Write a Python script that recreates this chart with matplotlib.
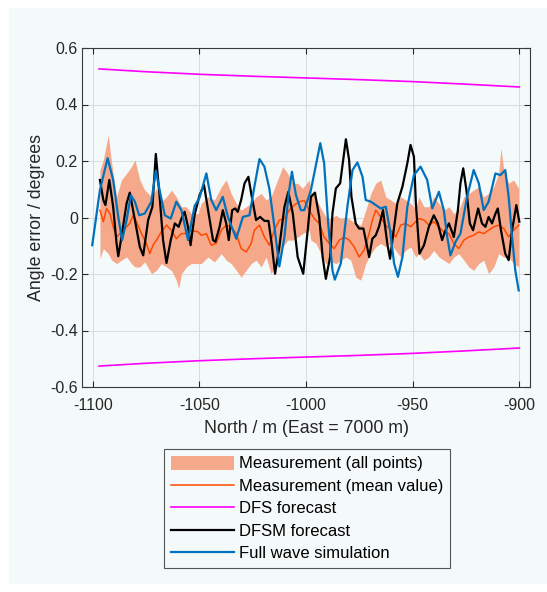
import numpy as np
import matplotlib
matplotlib.use("Agg")
from matplotlib import pyplot as plt
from matplotlib.patches import Rectangle

# Data
blue_x = [-1100.2, -1096.6, -1093.0, -1090.4, -1088.0, -1086.2, -1084.1, -1082.1, -1080.2, -1078.2,
          -1075.6, -1072.5, -1070.4, -1068.6, -1066.2, -1063.4, -1060.8, -1058.4, -1055.3, -1052.2,
          -1049.9, -1046.7, -1044.4, -1042.1, -1039.0, -1036.6, -1032.7, -1029.6, -1026.5, -1024.2,
          -1021.8, -1019.5, -1017.2, -1014.8, -1012.5, -1010.1, -1008.1, -1006.6, -1004.7, -1002.4,
          -1000.8, -997.7, -993.3, -991.5, -989.6, -987.6, -986.5, -983.7, -980.6, -978.2,
          -975.9, -973.5, -972.0, -969.6, -967.3, -965.0, -962.6, -960.6, -958.7, -956.9,
          -954.8, -952.5, -949.4, -946.3, -943.2, -940.8, -937.7, -935.4, -933.8, -932.3,
          -929.9, -927.6, -924.5, -921.4, -919.0, -916.7, -914.4, -911.2, -908.9, -906.6,
          -905.0, -903.4, -901.9, -900.3]
blue_y = [-0.098, 0.097, 0.210, 0.133, 0.002, -0.080, -0.010, 0.079, 0.056, 0.008,
          0.014, 0.056, 0.165, 0.097, 0.008, -0.004, 0.056, 0.026, -0.080, 0.041,
          0.070, 0.156, 0.062, 0.026, 0.073, 0.002, -0.075, 0.002, 0.008, 0.109,
          0.207, 0.180, 0.103, -0.033, -0.173, -0.069, 0.085, 0.162, 0.079, 0.026,
          0.026, 0.097, 0.263, 0.192, -0.021, -0.187, -0.220, -0.163, 0.038, 0.168,
          0.195, 0.144, 0.062, 0.056, 0.044, 0.032, 0.038, -0.045, -0.163, -0.210,
          -0.140, 0.038, 0.150, 0.180, 0.133, 0.032, 0.091, 0.026, -0.069, -0.134,
          -0.086, -0.057, 0.073, 0.168, 0.121, 0.026, 0.056, 0.156, 0.150, 0.168,
          0.073, -0.069, -0.187, -0.258]

black_x = [-1096.6, -1095.0, -1094.0, -1092.2, -1090.4, -1088.8, -1088.0, -1086.5, -1084.1, -1082.6,
           -1080.2, -1077.9, -1076.3, -1074.0, -1072.0, -1070.4, -1068.6, -1067.0, -1065.4, -1063.4,
           -1061.5, -1059.7, -1058.4, -1056.9, -1055.3, -1054.1, -1052.2, -1049.9, -1047.8, -1045.9,
           -1043.6, -1042.5, -1040.5, -1039.0, -1037.4, -1036.2, -1034.6, -1033.2, -1032.0, -1030.4,
           -1028.8, -1027.0, -1025.4, -1023.4, -1021.5, -1019.5, -1017.6, -1016.1, -1014.5, -1012.5,
           -1010.1, -1008.3, -1006.2, -1003.9, -1001.3, -999.2, -997.7, -995.8, -993.8, -992.2,
           -990.7, -988.7, -987.6, -986.0, -984.0, -981.3, -979.8, -978.7, -976.7, -975.1,
           -973.1, -971.5, -970.4, -968.9, -967.3, -965.8, -963.9, -961.9, -960.6, -959.1,
           -957.2, -954.8, -952.5, -951.0, -949.4, -948.5, -946.8, -944.7, -942.4, -940.1,
           -938.2, -936.2, -934.6, -933.0, -930.7, -928.8, -927.6, -926.3, -924.8, -923.2,
           -921.7, -919.3, -917.5, -915.9, -914.4, -912.8, -911.2, -910.1, -908.6, -906.6,
           -905.0, -903.4, -901.4, -900.0]
black_y = [0.133, 0.062, 0.044, 0.133, 0.038, -0.092, -0.137, -0.069, 0.050, 0.088,
           -0.009, -0.104, -0.134, -0.009, 0.038, 0.225, 0.073, -0.080, -0.161, -0.080,
           -0.021, -0.033, -0.004, 0.020, -0.033, -0.098, 0.010, 0.079, 0.115, 0.026,
           -0.080, -0.086, -0.033, 0.026, -0.021, -0.080, 0.026, 0.032, 0.020, 0.062,
           0.121, 0.144, 0.073, -0.009, 0.002, -0.012, -0.012, -0.092, -0.199, -0.104,
           0.038, 0.091, 0.014, -0.140, -0.199, -0.045, 0.073, 0.088, 0.002, -0.140,
           -0.217, -0.140, 0.014, 0.103, 0.121, 0.277, 0.204, 0.073, -0.021, -0.039,
           -0.039, -0.098, -0.140, -0.075, -0.063, -0.033, 0.026, -0.092, -0.146, -0.057,
           0.050, 0.109, 0.192, 0.257, 0.215, 0.050, -0.128, -0.098, -0.033, 0.008,
           -0.021, -0.080, -0.045, -0.021, -0.069, 0.026, 0.121, 0.174, 0.097, -0.021,
           -0.045, 0.032, -0.021, -0.033, 0.002, -0.021, 0.014, 0.032, -0.045, -0.128,
           -0.151, -0.045, 0.044, -0.015]

mean_x = [-1096.6, -1095.0, -1093.5, -1091.9, -1090.4, -1088.8, -1086.5, -1084.1, -1082.6, -1081.0,
          -1079.5, -1077.1, -1074.8, -1073.2, -1071.7, -1070.1, -1067.8, -1065.4, -1063.1, -1060.8,
          -1058.4, -1056.1, -1053.8, -1050.6, -1049.1, -1046.7, -1044.4, -1042.1, -1039.7, -1037.4,
          -1035.1, -1032.7, -1030.4, -1028.0, -1025.7, -1024.2, -1021.8, -1019.5, -1017.2, -1014.8,
          -1012.5, -1010.1, -1007.8, -1005.5, -1003.1, -1000.8, -998.5, -996.1, -993.8, -991.5,
          -989.1, -986.8, -984.4, -982.1, -979.8, -977.4, -975.1, -972.8, -970.4, -968.9,
          -967.3, -965.0, -962.6, -960.3, -958.0, -955.6, -953.3, -950.9, -949.4, -947.1,
          -944.7, -942.4, -940.1, -937.7, -935.4, -933.0, -930.7, -928.4, -926.0, -923.7,
          -921.4, -919.0, -916.7, -914.4, -912.0, -909.7, -907.3, -905.0, -902.7, -900.3]
mean_y = [0.026, -0.015, 0.032, 0.014, -0.033, -0.069, -0.051, -0.033, -0.021, 0.008,
          -0.015, -0.057, -0.092, -0.128, -0.098, -0.080, -0.051, -0.027, -0.045, -0.075,
          -0.057, -0.057, -0.045, -0.051, -0.063, -0.057, -0.098, -0.092, -0.045, -0.027,
          -0.033, -0.057, -0.110, -0.122, -0.092, -0.045, -0.027, -0.069, -0.098, -0.045,
          -0.009, -0.004, 0.026, 0.044, 0.056, 0.060, 0.026, -0.004, -0.021, -0.069,
          -0.092, -0.110, -0.080, -0.069, -0.080, -0.104, -0.140, -0.116, -0.057, -0.009,
          0.026, 0.002, -0.027, -0.045, -0.069, -0.027, -0.021, -0.033, -0.021, -0.004,
          -0.009, -0.027, -0.015, -0.033, -0.051, -0.057, -0.092, -0.110, -0.080, -0.069,
          -0.063, -0.051, -0.057, -0.045, -0.033, -0.027, -0.039, -0.069, -0.045, -0.027]

band_x = [-1096.6, -1095.0, -1092.7, -1091.1, -1088.8, -1086.5, -1084.1, -1081.8, -1080.2, -1077.9,
          -1075.6, -1072.4, -1070.1, -1067.8, -1065.4, -1063.1, -1060.8, -1059.7, -1058.4, -1056.1,
          -1053.8, -1050.6, -1049.1, -1046.0, -1042.9, -1039.7, -1037.4, -1035.1, -1032.7, -1030.4,
          -1028.1, -1025.7, -1023.4, -1021.0, -1018.7, -1016.4, -1013.3, -1010.9, -1008.6, -1006.2,
          -1003.9, -1001.6, -998.5, -997.7, -995.3, -993.0, -990.7, -988.3, -986.0, -983.7,
          -981.3, -979.0, -976.7, -974.3, -972.0, -969.6, -967.3, -965.0, -962.6, -960.3,
          -958.0, -955.6, -953.3, -951.0, -948.6, -947.1, -944.7, -942.4, -940.1, -937.7,
          -935.4, -933.0, -930.7, -928.4, -926.0, -923.7, -921.4, -919.0, -916.7, -914.4,
          -912.0, -909.7, -908.6, -907.3, -905.0, -902.7, -900.3]
band_hi = [0.168, 0.204, 0.292, 0.192, 0.073, 0.133, 0.156, 0.180, 0.204, 0.133,
           0.097, 0.073, 0.103, 0.056, 0.073, 0.097, 0.073, 0.056, 0.038, 0.038,
           0.014, 0.014, 0.050, 0.073, 0.062, 0.109, 0.133, 0.085, 0.050, 0.026,
           0.038, 0.050, 0.073, 0.085, 0.062, 0.073, 0.133, 0.180, 0.156, 0.121,
           0.121, 0.103, 0.133, 0.091, 0.067, 0.032, 0.002, -0.004, 0.008, -0.004,
           0.002, -0.009, -0.021, -0.027, 0.026, 0.085, 0.121, 0.133, 0.073, 0.062,
           0.050, 0.073, 0.062, 0.050, 0.032, 0.073, 0.038, 0.038, 0.073, 0.050,
           0.026, 0.038, 0.014, 0.026, 0.073, 0.085, 0.097, 0.109, 0.073, 0.085,
           0.109, 0.156, 0.245, 0.168, 0.121, 0.133, 0.103]
band_lo = [-0.146, -0.110, -0.128, -0.151, -0.163, -0.151, -0.140, -0.163, -0.175, -0.175,
           -0.157, -0.199, -0.187, -0.163, -0.175, -0.187, -0.222, -0.252, -0.199, -0.175,
           -0.163, -0.163, -0.163, -0.140, -0.157, -0.128, -0.151, -0.163, -0.187, -0.211,
           -0.187, -0.163, -0.151, -0.175, -0.140, -0.199, -0.163, -0.104, -0.080, -0.080,
           -0.069, -0.057, -0.045, -0.080, -0.092, -0.128, -0.163, -0.157, -0.163, -0.151,
           -0.140, -0.151, -0.211, -0.222, -0.163, -0.128, -0.104, -0.092, -0.104, -0.092,
           -0.116, -0.140, -0.116, -0.104, -0.140, -0.128, -0.151, -0.140, -0.116, -0.140,
           -0.151, -0.163, -0.140, -0.128, -0.151, -0.175, -0.187, -0.163, -0.151, -0.199,
           -0.175, -0.128, -0.134, -0.140, -0.140, -0.163, -0.175]

dfs_x = [-1097, -1075, -1050, -1025, -1000, -975, -950, -925, -900]
dfs_upper = [0.526, 0.516, 0.507, 0.500, 0.494, 0.488, 0.481, 0.472, 0.462]
dfs_lower = [-0.526, -0.516, -0.507, -0.500, -0.494, -0.488, -0.481, -0.472, -0.462]

xticks = [-1100, -1050, -1000, -950, -900]
yticks = [-0.6, -0.4, -0.2, 0, 0.2, 0.4, 0.6]
ytick_labels = ['-0.6', '-0.4', '-0.2', '0', '0.2', '0.4', '0.6']

# Style
bg = '#f4f9fa'
txt = '#262626'
plt.rcParams['font.family'] = ['Liberation Sans', 'DejaVu Sans']
plt.rcParams['axes.unicode_minus'] = False

fig = plt.figure(figsize=(5.47, 5.92), dpi=100)
fig.patch.set_facecolor('white')
fig.patches.append(Rectangle((9 / 547, 8 / 592), 1 - 9 / 547, 1 - 16 / 592,
                             transform=fig.transFigure, facecolor=bg,
                             edgecolor='none', zorder=-5))

ax = fig.add_axes([82 / 547, 1 - 387 / 592, 448 / 547, 339 / 592])
ax.set_facecolor(bg)

ax.fill_between(band_x, band_lo, band_hi, color='#f5a98a', lw=0,
                label='Measurement (all points)')
ax.plot(mean_x, mean_y, color='#ff4a00', lw=1.1, label='Measurement (mean value)',
        solid_joinstyle='round')
ax.plot(dfs_x, dfs_upper, color='#ff00ff', lw=1.2, label='DFS forecast')
ax.plot(dfs_x, dfs_lower, color='#ff00ff', lw=1.2)
ax.plot(black_x, black_y, color='black', lw=1.6, label='DFSM forecast',
        solid_joinstyle='round')
ax.plot(blue_x, blue_y, color='#0072bd', lw=1.6, label='Full wave simulation',
        solid_joinstyle='round')

ax.set_xlim(-1105, -895)
ax.set_ylim(-0.6, 0.6)
ax.set_xticks(xticks)
ax.set_yticks(yticks)
ax.set_yticklabels(ytick_labels)
ax.grid(True, color='#d9dcdd', lw=0.7)
ax.set_axisbelow(True)
ax.tick_params(direction='in', top=True, right=True, length=4, width=0.8,
               colors=txt, labelsize=11.5, pad=3)
ax.tick_params(axis='x', pad=8)
for sp in ax.spines.values():
    sp.set_color('#3a3a3a')
    sp.set_linewidth(0.8)

ax.set_xlabel('North / m (East = 7000 m)', fontsize=12.8, color=txt, labelpad=5)
ax.set_ylabel('Angle error / degrees', fontsize=12.8, color=txt, labelpad=4)

leg = fig.legend(loc='upper center', bbox_to_anchor=(307 / 547, 1 - 449 / 592),
                 bbox_transform=fig.transFigure, fontsize=12, frameon=True,
                 fancybox=False, framealpha=1, facecolor=bg, edgecolor='#555555',
                 handlelength=3.8, handleheight=0.9, labelspacing=0.41,
                 borderpad=0.4, handletextpad=0.3, borderaxespad=0)
leg.get_frame().set_linewidth(0.8)

fig.savefig('out.png', dpi=100, facecolor=fig.get_facecolor())
